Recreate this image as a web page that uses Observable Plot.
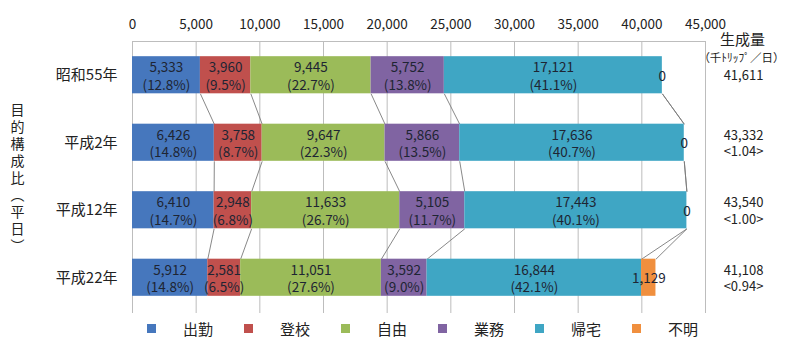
<!DOCTYPE html>
<html><head><meta charset="utf-8">
<script src="https://cdn.jsdelivr.net/npm/d3@7"></script>
<script src="https://cdn.jsdelivr.net/npm/@observablehq/plot@0.6"></script>
<style>
body{margin:0;background:#fff;font-family:"Noto Sans CJK JP",sans-serif;}
#wrap{position:relative;width:785px;height:338px;overflow:hidden;}
#legend{position:absolute;left:0;top:318px;width:785px;height:20px;}
.item{position:absolute;top:0;height:20px;display:flex;align-items:center;font-size:15px;color:#222;white-space:nowrap;}
.sw{width:9px;height:9px;margin-right:27px;}
</style></head><body><div id="wrap"><div id="chart"></div><div id="legend"></div></div>
<script>
const years = ["昭和55年", "平成2年", "平成12年", "平成22年"];
const purposes = ["出勤", "登校", "自由", "業務", "帰宅", "不明"];
const colors = ["#4677bd", "#c0504d", "#9bbb59", "#8064a2", "#3fa6c4", "#f08f3e"];
const shukkin = [5333, 6426, 6410, 5912];
const toukou = [3960, 3758, 2948, 2581];
const jiyuu = [9445, 9647, 11633, 11051];
const gyoumu = [5752, 5866, 5105, 3592];
const kitaku = [17121, 17636, 17443, 16844];
const fumei = [0, 0, 0, 1129];
const shukkinPct = ["12.8", "14.8", "14.7", "14.8"];
const toukouPct = ["9.5", "8.7", "6.8", "6.5"];
const jiyuuPct = ["22.7", "22.3", "26.7", "27.6"];
const gyoumuPct = ["13.8", "13.5", "11.7", "9.0"];
const kitakuPct = ["41.1", "40.7", "40.1", "42.1"];
const totals = [41611, 43332, 43540, 41108];
const ratios = ["", "1.04", "1.00", "0.94"];
const xTicks = [0, 5000, 10000, 15000, 20000, 25000, 30000, 35000, 40000, 45000];

const series = [shukkin, toukou, jiyuu, gyoumu, kitaku, fumei];
const pcts = [shukkinPct, toukouPct, jiyuuPct, gyoumuPct, kitakuPct, null];
const fmt = d3.format(",");
const H = 0.275;

const segs = [];
const ends = years.map(() => []);
years.forEach((yr, i) => {
  let cum = 0;
  series.forEach((s, k) => {
    const v = s[i];
    const p = pcts[k] ? pcts[k][i] : null;
    segs.push({i, k, x1: cum, x2: cum + v, v,
      label: p ? `${fmt(v)}\n(${p}%)` : fmt(v)});
    cum += v;
    ends[i].push(cum);
  });
});
const links = [];
for (let i = 0; i < years.length - 1; i++) {
  for (let k = 0; k < purposes.length; k++) {
    links.push({x1: ends[i][k], y1: i + 0.5 + H, x2: ends[i + 1][k], y2: i + 1.5 - H});
  }
}
const rightLabels = totals.map((t, i) => ({i, text: ratios[i] ? `${fmt(t)}\n<${ratios[i]}>` : fmt(t)}));

const chart = Plot.plot({
  width: 785, height: 316,
  marginLeft: 132, marginRight: 80, marginTop: 41, marginBottom: 3,
  style: {fontFamily: "'Noto Sans CJK JP', sans-serif", color: "#222", background: "#fff", overflow: "visible"},
  x: {domain: [0, 45000]},
  y: {domain: [0, 4], range: [41, 311]},
  marks: [
    Plot.gridX(xTicks, {stroke: "#bdbdbd", strokeOpacity: 1}),
    Plot.ruleY([0], {stroke: "#bdbdbd"}),
    Plot.axisX({anchor: "top", ticks: xTicks, tickFormat: d => fmt(d), tickSize: 0, tickPadding: 13, fontSize: 13.5, label: null}),
    Plot.axisY({ticks: [0.5, 1.5, 2.5, 3.5], tickFormat: d => years[Math.floor(d)], tickSize: 0, tickPadding: 15, fontSize: 15, label: null}),
    Plot.link(links, {x1: "x1", y1: "y1", x2: "x2", y2: "y2", stroke: "#7a7a7a", strokeWidth: 0.9}),
    Plot.rect(segs, {x1: "x1", x2: "x2", y1: d => d.i + 0.5 - H, y2: d => d.i + 0.5 + H, fill: d => colors[d.k]}),
    Plot.text(segs, {x: d => (d.x1 + d.x2) / 2, y: d => d.i + 0.5, text: "label", fontSize: 13.5, lineHeight: 1.3, fill: "#1e2533"}),
    Plot.text(rightLabels, {y: d => d.i + 0.5, frameAnchor: "right", textAnchor: "middle", lineAnchor: "middle", dx: 38, text: "text", fontSize: 13, lineHeight: 1.25, fill: "#222"}),
    Plot.text(["生成量"], {frameAnchor: "top-right", textAnchor: "middle", lineAnchor: "middle", dx: 37, dy: -1, text: d => d, fontSize: 15, fill: "#222"}),
    Plot.text(["（千ﾄﾘｯﾌﾟ／日）"], {frameAnchor: "top-right", textAnchor: "middle", lineAnchor: "middle", dx: 36, dy: 17, text: d => d, fontSize: 11.5, fill: "#222"}),
    Plot.text(["目\n的\n構\n成\n比\n︵\n平\n日\n︶"], {frameAnchor: "left", textAnchor: "middle", lineAnchor: "middle", dx: -115, text: d => d, fontSize: 14, lineHeight: 1.22, fill: "#222"})
  ]
});
document.getElementById("chart").appendChild(chart);

const legend = document.getElementById("legend");
purposes.forEach((p, k) => {
  const it = document.createElement("div");
  it.className = "item";
  it.style.left = (147 + k * 97) + "px";
  it.innerHTML = `<span class="sw" style="background:${colors[k]}"></span><span>${p}</span>`;
  legend.appendChild(it);
});
</script>
</body></html>
